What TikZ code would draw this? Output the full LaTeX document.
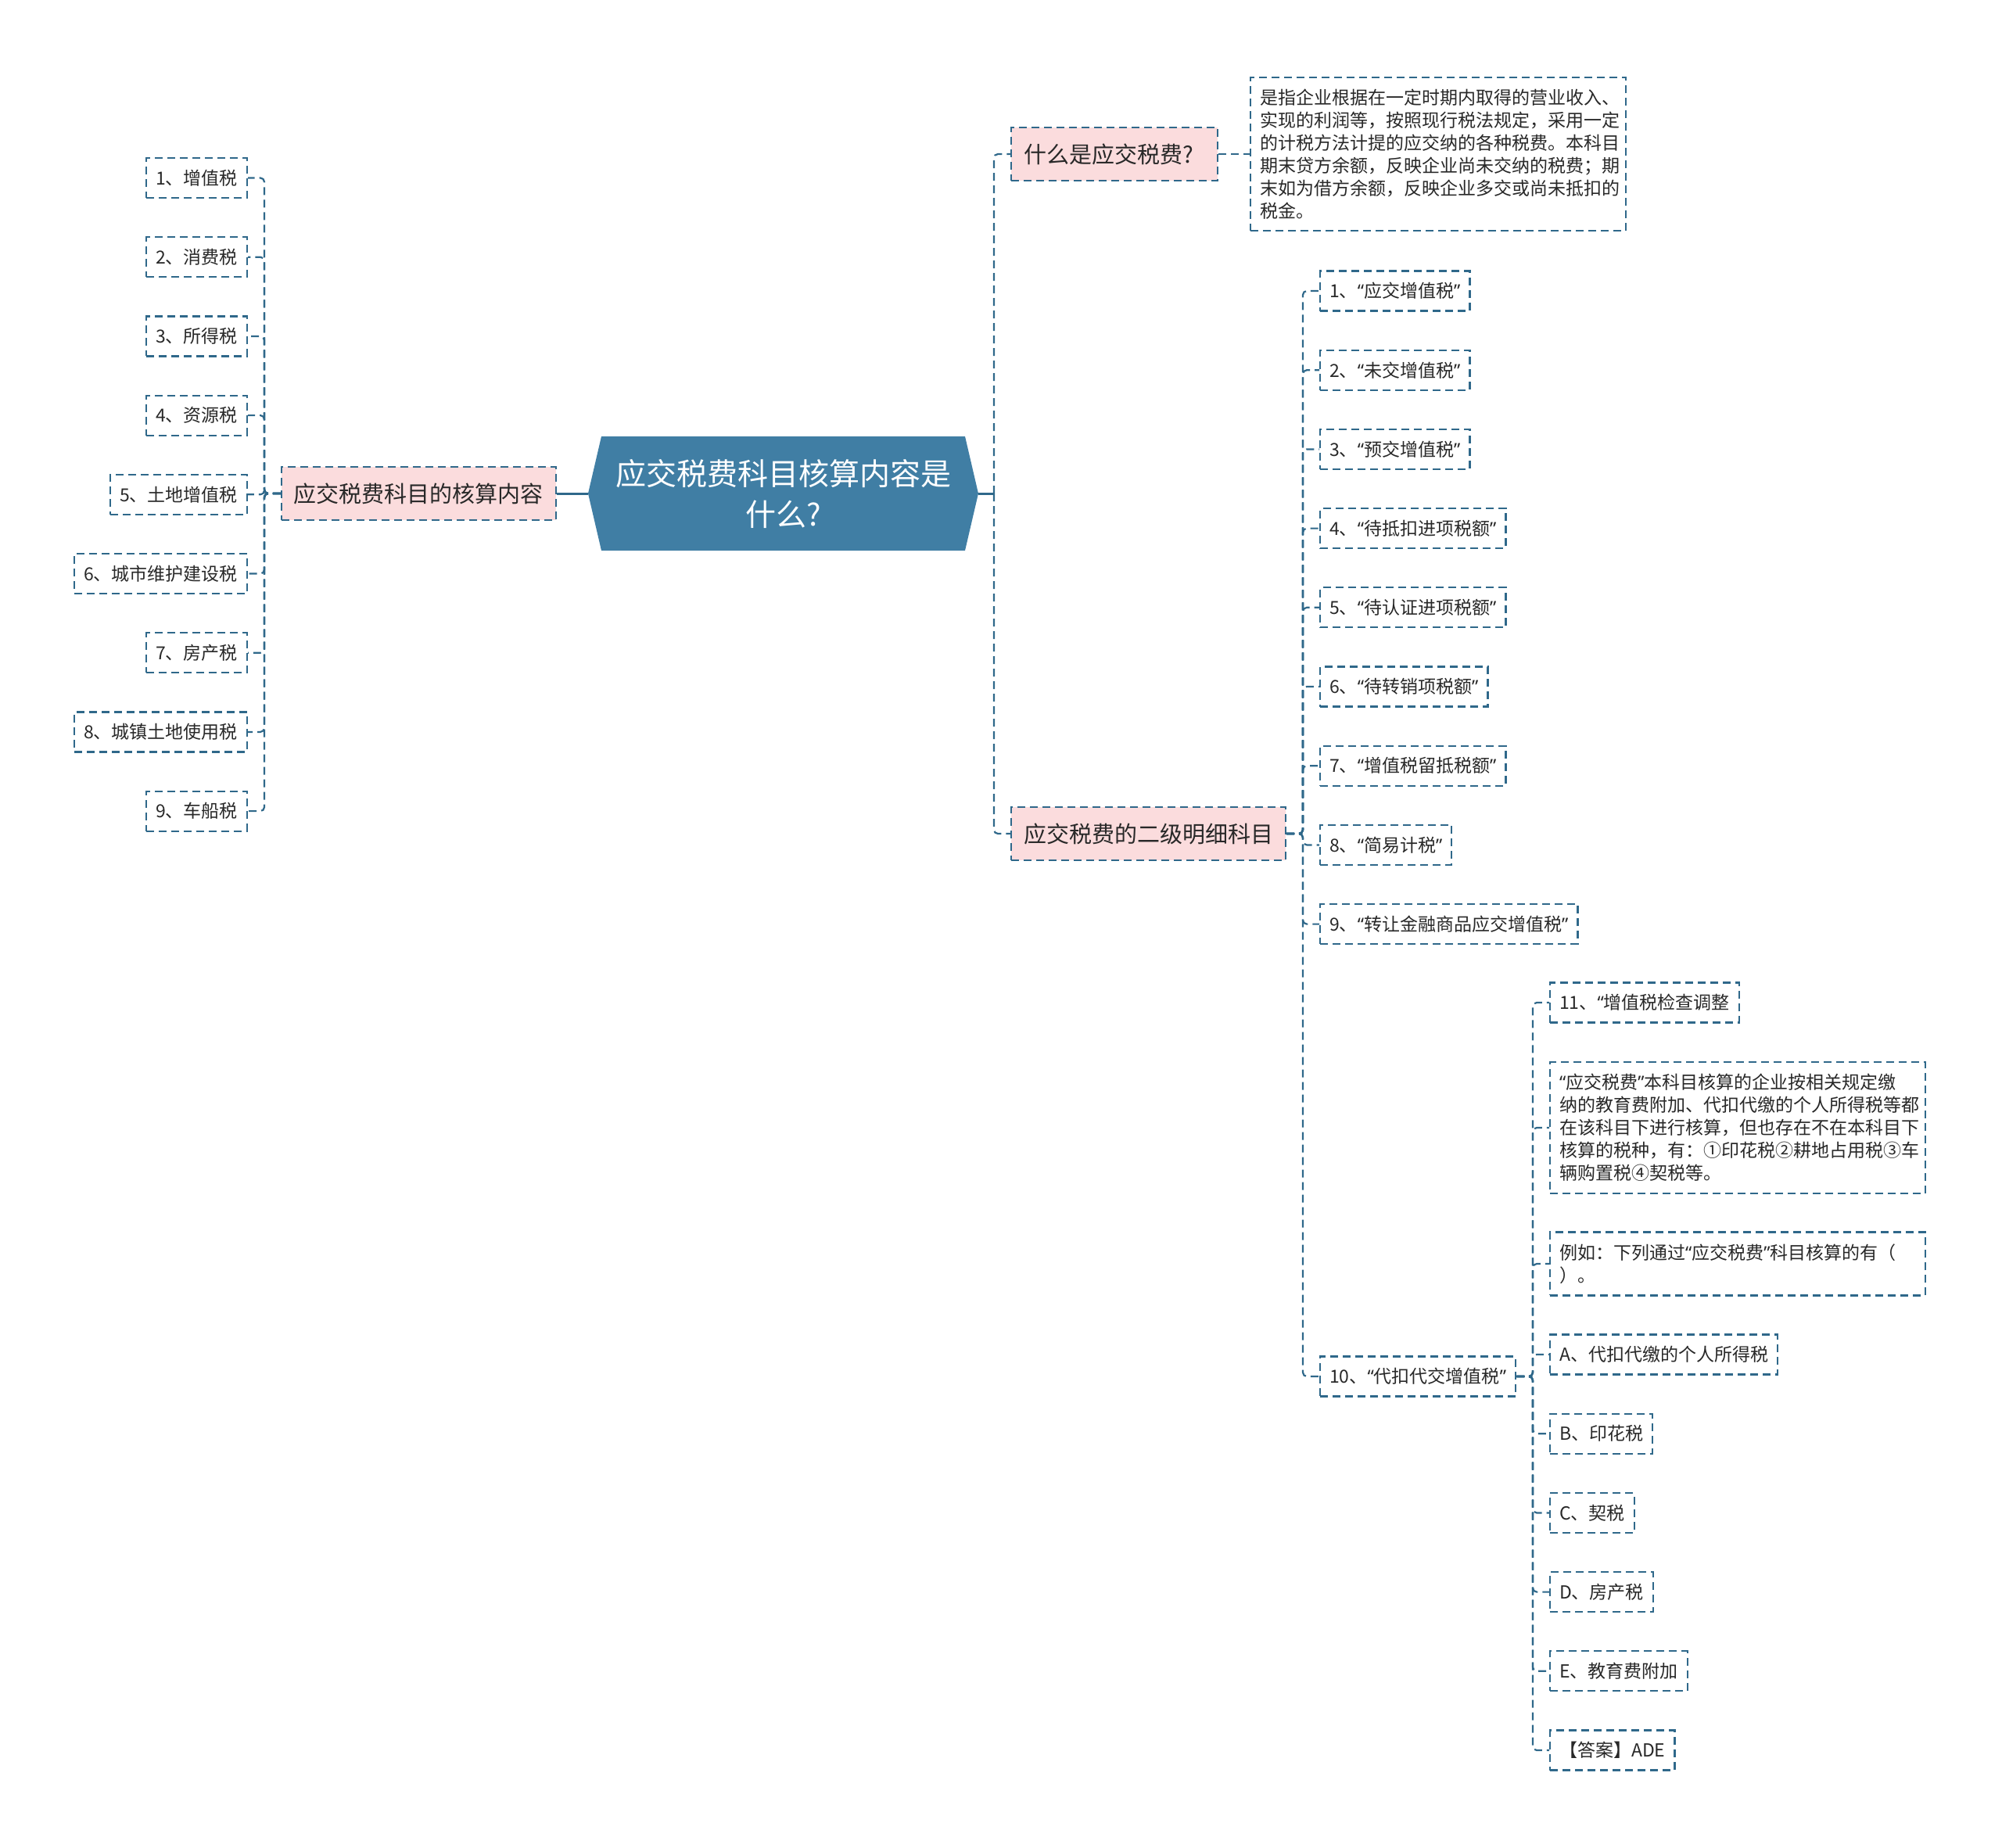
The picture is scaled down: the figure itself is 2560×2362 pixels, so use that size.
\documentclass[tikz,border=0pt]{standalone}
\usepackage{fontspec}
\setmainfont{Noto Sans CJK SC}
\newfontfamily\latinfont{Noto Sans}
\newcommand\qL{{\latinfont “}}
\newcommand\qR{{\latinfont ”}}
\definecolor{rootblue}{RGB}{64,126,164}
\definecolor{linkblue}{RGB}{47,104,138}
\definecolor{pinkbg}{RGB}{251,220,221}
\definecolor{txt}{RGB}{40,40,40}

\begin{document}
\begin{tikzpicture}[x=1pt, y=-1pt,
  leaf/.style={draw=linkblue, line width=2.2pt, dash pattern=on 10pt off 6pt, text=txt,
    font=\fontsize{23}{29}\selectfont, inner xsep=12pt, inner ysep=0pt, minimum height=51pt},
  topic/.style={leaf, fill=pinkbg, font=\fontsize{29}{36}\selectfont, inner xsep=16pt, minimum height=68pt},
  note/.style={leaf, align=left, text width=456pt, inner ysep=15pt, minimum height=0pt},
  link/.style={draw=linkblue, line width=2.2pt, dash pattern=on 10pt off 6pt, rounded corners=5pt},
  rootlink/.style={draw=linkblue, line width=3pt}]
  \useasboundingbox (0,0) rectangle (2560,2362);

  % central topic
  \fill[rootblue] (752,631) -- (769,558) -- (1234,558) -- (1251,631) -- (1234,704) -- (769,704) -- cycle;
  \node[text=white, font=\fontsize{39}{52}\selectfont, align=center, minimum width=499pt,
    minimum height=146pt, inner sep=0pt] (root) at (1001.5,631) {应交税费科目核算内容是\\什么?};

  % left branch
  \node[topic, anchor=east] (content) at (712,631) {应交税费科目的核算内容};
  \coordinate (lbr) at (338,631);
  \draw[rootlink] (root.west) -- (content.east);
  \foreach \name [count=\i] in {1、增值税, 2、消费税, 3、所得税, 4、资源税, 5、土地增值税,
      6、城市维护建设税, 7、房产税, 8、城镇土地使用税, 9、车船税} {
    \node[leaf, anchor=east] (t\i) at (317, {126.3+\i*101.2}) {\name};
    \draw[link] (content.west) -- (lbr) |- (t\i.east);
  }

  % right branches
  \coordinate (rbr) at (1271,631);
  \draw[rootlink] (root.east) -- (rbr);
  \node[topic, anchor=west, text width=232pt, align=left] (what) at (1292,197) {什么是应交税费?};
  \node[topic, anchor=west] (detail) at (1292,1066) {应交税费的二级明细科目};
  \draw[link] (rbr) |- (what.west);
  \draw[link] (rbr) |- (detail.west);

  \node[note, anchor=west] (desc) at (1598,197) {是指企业根据在一定时期内取得的营业收入、\\
    实现的利润等，按照现行税法规定，采用一定\\
    的计税方法计提的应交纳的各种税费。本科目\\
    期末贷方余额，反映企业尚未交纳的税费；期\\
    末如为借方余额，反映企业多交或尚未抵扣的\\
    税金。};
  \draw[link] (what.east) -- (desc.west);

  % second level accounts
  \coordinate (dbr) at (1666,1066);
  \foreach \name [count=\i] in {1、\qL 应交增值税\qR, 2、\qL 未交增值税\qR, 3、\qL 预交增值税\qR,
      4、\qL 待抵扣进项税额\qR, 5、\qL 待认证进项税额\qR, 6、\qL 待转销项税额\qR,
      7、\qL 增值税留抵税额\qR, 8、\qL 简易计税\qR, 9、\qL 转让金融商品应交增值税\qR} {
    \node[leaf, anchor=west] (v\i) at (1687, {270.8+\i*101.2}) {\name};
    \draw[link] (detail.east) -- (dbr) |- (v\i.west);
  }
  \node[leaf, anchor=west] (v10) at (1687,1760) {10、\qL 代扣代交增值税\qR};
  \draw[link] (detail.east) -- (dbr) |- (v10.west);

  % under item 10
  \coordinate (sbr) at (1960,1760);
  \node[leaf, anchor=west] (s1) at (1981,1282) {11、\qL 增值税检查调整};
  \node[note, anchor=west] (s2) at (1981,1442) {\qL 应交税费\qR 本科目核算的企业按相关规定缴\\
    纳的教育费附加、代扣代缴的个人所得税等都\\
    在该科目下进行核算，但也存在不在本科目下\\
    核算的税种，有：①印花税②耕地占用税③车\\
    辆购置税④契税等。};
  \node[note, anchor=west] (s3) at (1981,1616) {例如：下列通过\qL 应交税费\qR 科目核算的有（\\
    ）。};
  \foreach \name [count=\i] in {A、代扣代缴的个人所得税, B、印花税, C、契税, D、房产税,
      E、教育费附加, 【答案】ADE} {
    \node[leaf, anchor=west] (a\i) at (1981, {1630.8+\i*101.2}) {\name};
  }
  \foreach \k in {s1,s2,s3,a1,a2,a3,a4,a5,a6} {
    \draw[link] (v10.east) -- (sbr) |- (\k.west);
  }
\end{tikzpicture}
\end{document}
